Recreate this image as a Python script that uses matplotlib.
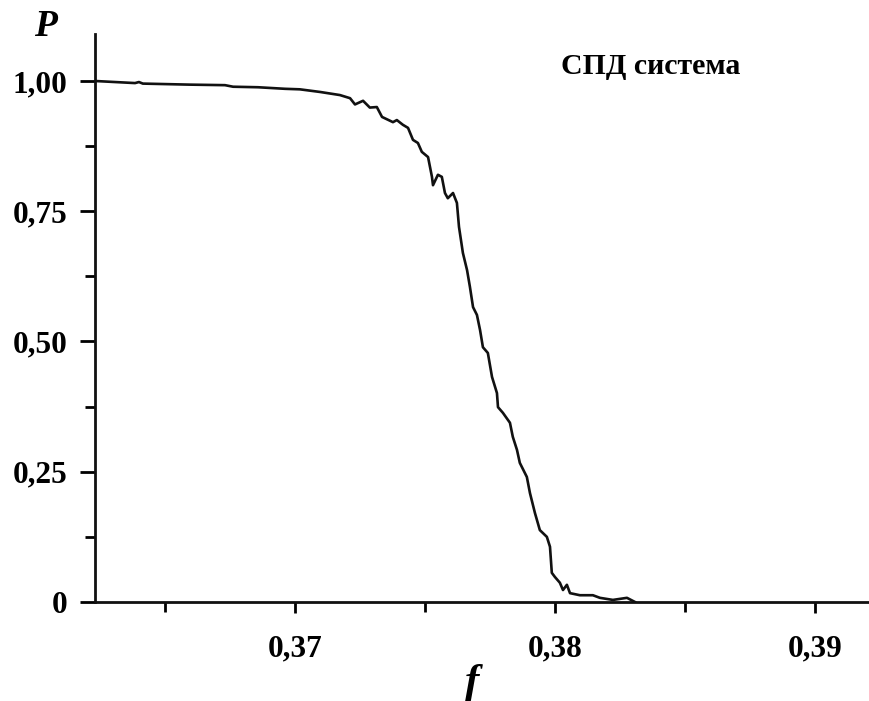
import matplotlib
matplotlib.use("Agg")
import matplotlib.pyplot as plt
from matplotlib.ticker import FixedLocator

# Data
f_vals = [0.36231, 0.36385, 0.36400, 0.36415, 0.36596, 0.36731, 0.36762, 0.36858,
          0.36962, 0.37019, 0.37096, 0.37173, 0.37212, 0.37231, 0.37262, 0.37288,
          0.37315, 0.37335, 0.37377, 0.37392, 0.37415, 0.37435, 0.37454, 0.37473,
          0.37488, 0.37512, 0.37527, 0.37531, 0.37550, 0.37565, 0.37577, 0.37588,
          0.37608, 0.37623, 0.37631, 0.37646, 0.37662, 0.37673, 0.37685, 0.37700,
          0.37712, 0.37723, 0.37742, 0.37758, 0.37777, 0.37781, 0.37800, 0.37827,
          0.37838, 0.37854, 0.37865, 0.37892, 0.37904, 0.37923, 0.37942, 0.37969,
          0.37981, 0.37988, 0.38000, 0.38019, 0.38031, 0.38046, 0.38058, 0.38096,
          0.38146, 0.38173, 0.38223, 0.38277, 0.38308]
p_vals = [1.000, 0.996, 0.998, 0.995, 0.993, 0.992, 0.989, 0.988,
          0.985, 0.984, 0.979, 0.973, 0.967, 0.955, 0.962, 0.949,
          0.950, 0.931, 0.921, 0.925, 0.916, 0.910, 0.887, 0.881,
          0.864, 0.854, 0.816, 0.800, 0.820, 0.816, 0.785, 0.775,
          0.785, 0.766, 0.720, 0.670, 0.637, 0.605, 0.566, 0.551,
          0.522, 0.489, 0.478, 0.432, 0.401, 0.374, 0.363, 0.344,
          0.317, 0.292, 0.267, 0.240, 0.209, 0.171, 0.138, 0.125,
          0.106, 0.056, 0.048, 0.037, 0.023, 0.033, 0.017, 0.013,
          0.013, 0.008, 0.004, 0.008, 0.000]

x_major = [0.37, 0.38, 0.39]
x_labels = ["0,37", "0,38", "0,39"]
x_minor = [0.365, 0.375, 0.385]
y_major = [0.0, 0.25, 0.50, 0.75, 1.00]
y_labels = ["0", "0,25", "0,50", "0,75", "1,00"]
y_minor = [0.125, 0.375, 0.625, 0.875]

plt.rcParams['font.family'] = ['Liberation Serif', 'DejaVu Serif']

fig = plt.figure(figsize=(8.69, 7.01), dpi=100)
ax = fig.add_axes([95/869, 1 - 602/701, 1 - 95/869, (602 - 34)/701])

ax.plot(f_vals, p_vals, color='#111111', linewidth=1.9)

ax.set_xlim(0.36231, 0.39208)
ax.set_ylim(0.0, 1.0902)

for s in ['top', 'right']:
    ax.spines[s].set_visible(False)
for s in ['left', 'bottom']:
    ax.spines[s].set_linewidth(2.0)
    ax.spines[s].set_color('#111111')

ax.xaxis.set_major_locator(FixedLocator(x_major))
ax.xaxis.set_minor_locator(FixedLocator(x_minor))
ax.set_xticklabels(x_labels)
ax.yaxis.set_major_locator(FixedLocator(y_major))
ax.yaxis.set_minor_locator(FixedLocator(y_minor))
ax.set_yticklabels(y_labels)

ax.tick_params(axis='x', which='major', length=8, width=2, pad=15, labelsize=22.5, direction='out')
ax.tick_params(axis='x', which='minor', length=7, width=2, direction='out')
ax.tick_params(axis='y', which='major', length=11, width=2, pad=9, labelsize=22.5, direction='out')
ax.tick_params(axis='y', which='minor', length=7, width=2, direction='out')
for lbl in ax.get_xticklabels() + ax.get_yticklabels():
    lbl.set_fontweight('bold')

ax.text(0.38369, 1.027, "СПД система", ha='center', va='center',
        fontsize=21.5, fontweight='bold')

fig.text(45/869, 1 - 26/701, "P", ha='center', va='center',
         fontsize=27, fontweight='bold', fontstyle='italic')
fig.text(472/869, 1 - 683/701, "f", ha='center', va='center',
         fontsize=31, fontweight='bold', fontstyle='italic')

fig.savefig("out.png", dpi=100, facecolor='white')
